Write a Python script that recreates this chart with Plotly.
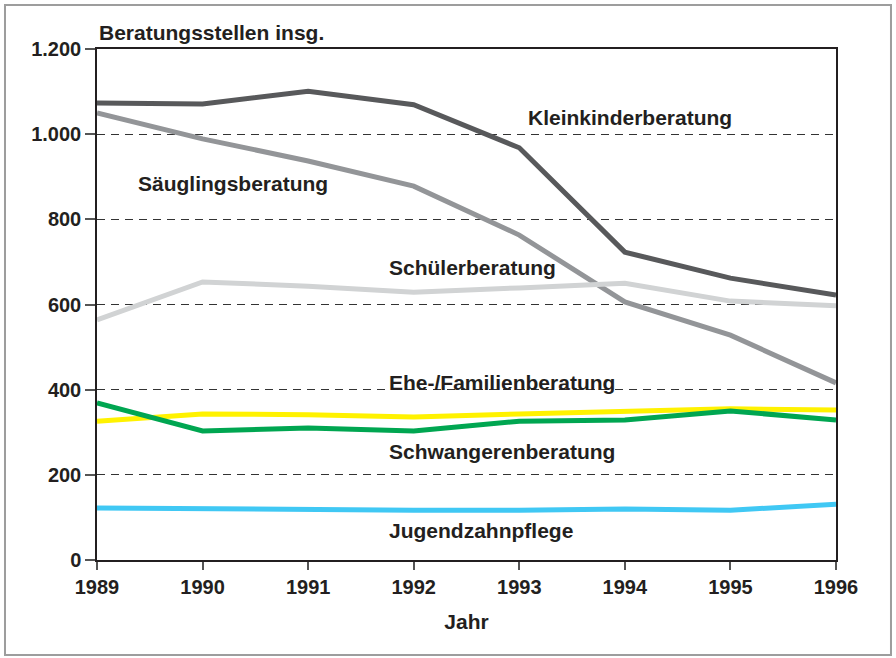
import plotly.graph_objects as go

# data
years = [1989, 1990, 1991, 1992, 1993, 1994, 1995, 1996]

kleinkinder = [1073, 1071, 1101, 1069, 968, 723, 662, 622]
saeuglinge = [1050, 989, 937, 878, 763, 606, 528, 416]
schueler = [564, 653, 643, 629, 639, 650, 608, 597]
ehe_familie = [326, 343, 341, 336, 343, 348, 355, 352]
schwangere = [369, 303, 310, 303, 326, 329, 350, 329]
jugendzahn = [122, 120, 120, 117, 117, 120, 117, 131]

y_ticks = [0, 200, 400, 600, 800, 1000, 1200]

series = [
    ("Kleinkinderberatung", kleinkinder, "#58595b"),
    ("Säuglingsberatung", saeuglinge, "#939598"),
    ("Schülerberatung", schueler, "#d1d3d4"),
    ("Ehe-/Familienberatung", ehe_familie, "#fff200"),
    ("Schwangerenberatung", schwangere, "#00a651"),
    ("Jugendzahnpflege", jugendzahn, "#40c8f4"),
]

# label placement (data coords, left edge of text)
label_pos = {
    "Kleinkinderberatung": (1993.06, 1040),
    "Säuglingsberatung": (1989.37, 885),
    "Schülerberatung": (1991.745, 686),
    "Ehe-/Familienberatung": (1991.745, 418),
    "Schwangerenberatung": (1991.745, 254),
    "Jugendzahnpflege": (1991.745, 70),
}

TXT = "#231f20"
FONT = "Liberation Sans, Arial, sans-serif"

fig = go.Figure()
for name, vals, col in series:
    fig.add_trace(
        go.Scatter(
            x=years, y=vals, mode="lines", name=name,
            line=dict(color=col, width=5), cliponaxis=False,
        )
    )
    lx, ly = label_pos[name]
    fig.add_annotation(
        x=lx, y=ly, text=name, showarrow=False, xanchor="left", yanchor="middle",
        font=dict(family=FONT, size=21, color=TXT, weight="bold"),
    )

fig.add_annotation(
    x=0, y=1, xref="paper", yref="paper", xanchor="left", yanchor="bottom", yshift=3,
    text="Beratungsstellen insg.", showarrow=False,
    font=dict(family=FONT, size=21, color=TXT, weight="bold"),
)

# grey frame around the whole graphic
fig.add_shape(
    type="rect", xref="paper", yref="paper",
    x0=-0.1245, x1=1.0744, y0=-0.186, y1=1.086,
    line=dict(color="#9d9d9d", width=2),
)

fig.update_xaxes(
    range=[1989, 1996], tickvals=years, showgrid=False, zeroline=False,
    showline=True, linecolor=TXT, linewidth=1.5, mirror=True,
    ticks="outside", ticklen=8, tickcolor="#555", tickwidth=1.5,
    tickfont=dict(family=FONT, size=20, color=TXT, weight="bold"),
    title=dict(text="Jahr", font=dict(family=FONT, size=21, color=TXT, weight="bold"), standoff=18),
)
fig.update_yaxes(
    range=[0, 1200], tickvals=y_ticks, separatethousands=True, tickformat=",d",
    showgrid=True, gridcolor="#333", griddash="8px,6px", gridwidth=1, zeroline=False,
    showline=True, linecolor=TXT, linewidth=1.5, mirror=True,
    ticks="outside", ticklen=10, tickcolor="#555", tickwidth=1.5,
    tickfont=dict(family=FONT, size=20, color=TXT, weight="bold"),
)
fig.update_layout(
    width=896, height=658, separators=",.",
    margin=dict(l=97, r=60, t=49, b=98),
    plot_bgcolor="white", paper_bgcolor="white", showlegend=False,
)
fig.write_html(
    "out.html",
    config={"displayModeBar": False},
    post_script="document.body.style.margin='0';",
)
